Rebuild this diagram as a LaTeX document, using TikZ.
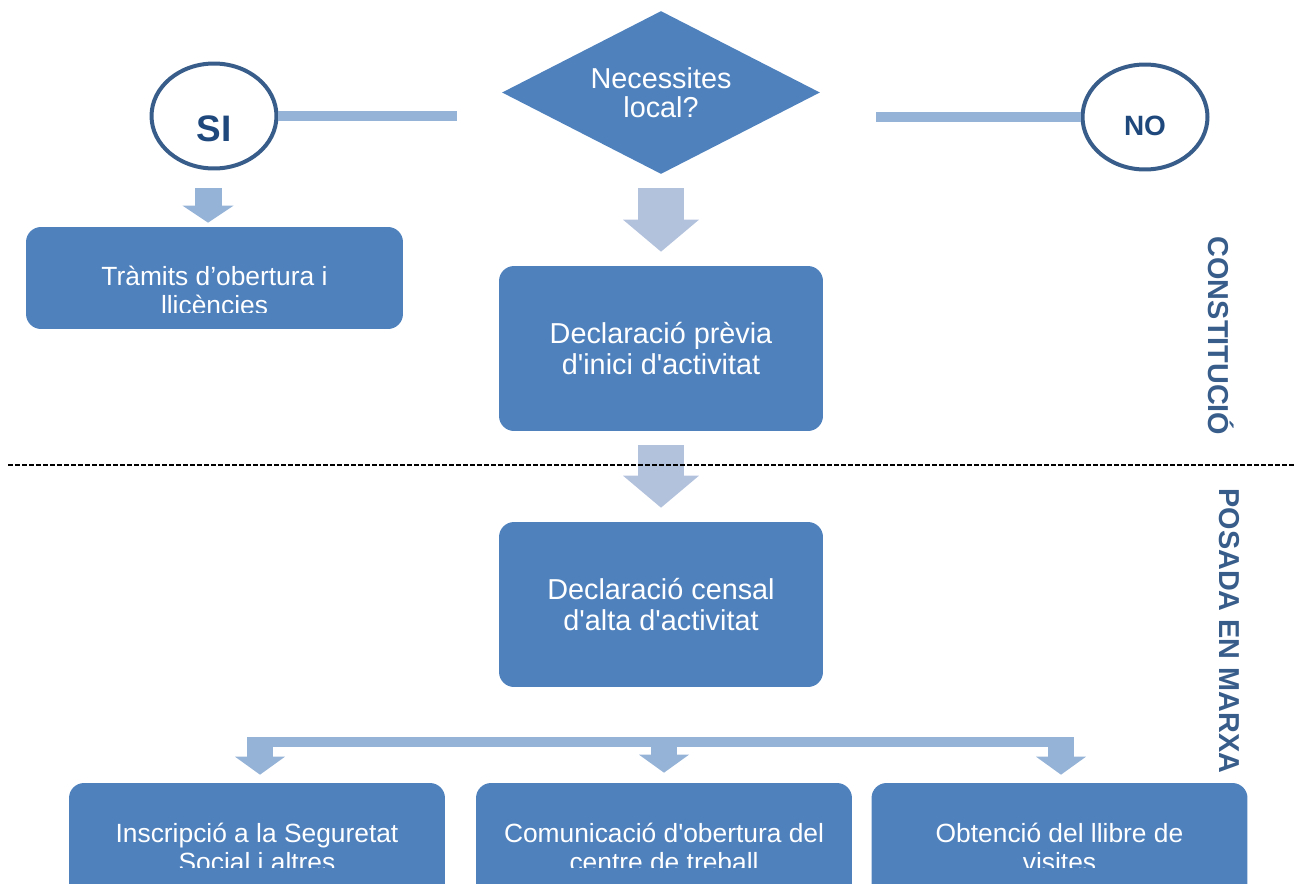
\documentclass[tikz,border=0pt]{standalone}
\usepackage{fontspec}
\setmainfont{Liberation Sans}[Ligatures=TeXOff]
\usetikzlibrary{shapes.geometric}
\usetikzlibrary{arrows.meta}
\definecolor{boxblue}{HTML}{4F81BD}
\definecolor{ringblue}{HTML}{385D8A}
\definecolor{labelblue}{HTML}{1F497D}
\definecolor{linkblue}{HTML}{95B3D7}
\definecolor{flowblue}{HTML}{B2C2DD}

\begin{document}
\begin{tikzpicture}[x=0.02cm, y=-0.02cm,
  stepbox/.style={fill=boxblue, rounded corners=0.3cm, inner sep=0, minimum width=6.48cm, minimum height=3.3cm},
  bigtext/.style={text=white, align=center, font=\fontsize{16.4}{17.6}\selectfont},
  smalltext/.style={text=white, align=center, font=\fontsize{15}{16.4}\selectfont},
  answer/.style={ellipse, draw=ringblue, line width=0.08cm, fill=white, inner sep=0, minimum width=2.5cm, minimum height=2.1cm, text=labelblue, text depth=0pt},
  sideline/.style={draw=linkblue, line width=0.2cm},
  flowarrow/.style={draw=flowblue, line width=0.93cm, -{Triangle[width=1.52cm,length=0.64cm,line width=0pt]}, shorten <=0.28cm, shorten >=0.28cm},
  brancharrow/.style={draw=linkblue, line width=0.52cm, -{Triangle[width=1cm,length=0.36cm,line width=0pt]}, shorten >=0.16cm},
  phase/.style={rotate=-90, text=ringblue, font=\fontsize{16.4}{16.4}\selectfont\bfseries}
]
\useasboundingbox (0,0) rectangle (1294,883);
\clip (0,0) rectangle (1294,883);

\node[diamond, aspect=1.95, fill=boxblue, inner sep=0, minimum width=6.36cm, minimum height=3.26cm, text=white, align=center, font=\fontsize{16.4}{16.5}\selectfont] (local) at (661,92.5) {Necessites\\local?};
\node[answer, text height=1.03cm, font=\fontsize{21}{21}\selectfont\bfseries] (si) at (214,116) {SI};
\node[answer, text height=0.73cm, font=\fontsize{15.9}{15.9}\selectfont\bfseries] (no) at (1145,117) {NO};

\node[stepbox, minimum width=7.54cm, minimum height=2.04cm] (tramits) at (214.5,278) {};
\node[stepbox] (previa) at (661,348.5) {};
\node[stepbox] (censal) at (661,604.5) {};
\node[stepbox, minimum width=7.52cm] (segsoc) at (257,865.5) {};
\node[stepbox, minimum width=7.52cm] (centre) at (664,865.5) {};
\node[stepbox, minimum width=7.52cm] (llibre) at (1059.5,865.5) {};

\node[bigtext] (previatxt) at (previa) {Declaració prèvia\\d'inici d'activitat};
\node[bigtext] (censaltxt) at (censal) {Declaració censal\\d'alta d'activitat};
\begin{scope}
\clip (26,227) rectangle (403,312);
\node[smalltext] (tramitstxt) at (214.5,290.5) {Tràmits d’obertura i\\llicències};
\end{scope}
\begin{scope}
\clip (0,783) rectangle (1294,867);
\node[smalltext] (segsoctxt) at (257,847.5) {Inscripció a la Seguretat\\Social i altres};
\node[smalltext] (centretxt) at (664,847.5) {Comunicació d'obertura del\\centre de treball};
\node[smalltext] (llibretxt) at (1059.5,847.5) {Obtenció del llibre de\\visites};
\end{scope}

\node[phase] (constitucio) at (1221,336) {CONSTITUCIÓ};
\node[phase] (marxa) at (1229,631) {POSADA EN MARXA};

\draw[sideline, shorten >=0.9cm] (si.east) -- (si.east -| local.west);
\draw[sideline, shorten <=1.12cm] (no.west -| local.east) -- (no.west);
\draw[flowarrow, draw=linkblue, line width=0.54cm, -{Triangle[width=1.02cm,length=0.34cm,line width=0pt]}, shorten <=0.36cm, shorten >=0.08cm] ([xshift=-0.12cm]si.south) -- ([xshift=-0.12cm]si.south |- tramits.north);
\draw[flowarrow] (local.south) -- (previa.north);
\draw[flowarrow] (previa.south) -- (censal.north);

\draw[black, line width=1.1pt, dash pattern=on 0.1cm off 0.04cm] (8,465) -- (1294,465);

\coordinate (barleft) at (247,742);
\coordinate (barright) at (1074,742);
\coordinate (b1) at (260,742);
\coordinate (b2) at (664,742);
\coordinate (b3) at (1061,742);
\draw[sideline] (barleft) -- (barright);
\draw[brancharrow] (b1) -- (b1 |- segsoc.north);
\draw[brancharrow, shorten >=0.2cm] (b2) -- (centre.north);
\draw[brancharrow] (b3) -- (b3 |- llibre.north);
\end{tikzpicture}
\end{document}
